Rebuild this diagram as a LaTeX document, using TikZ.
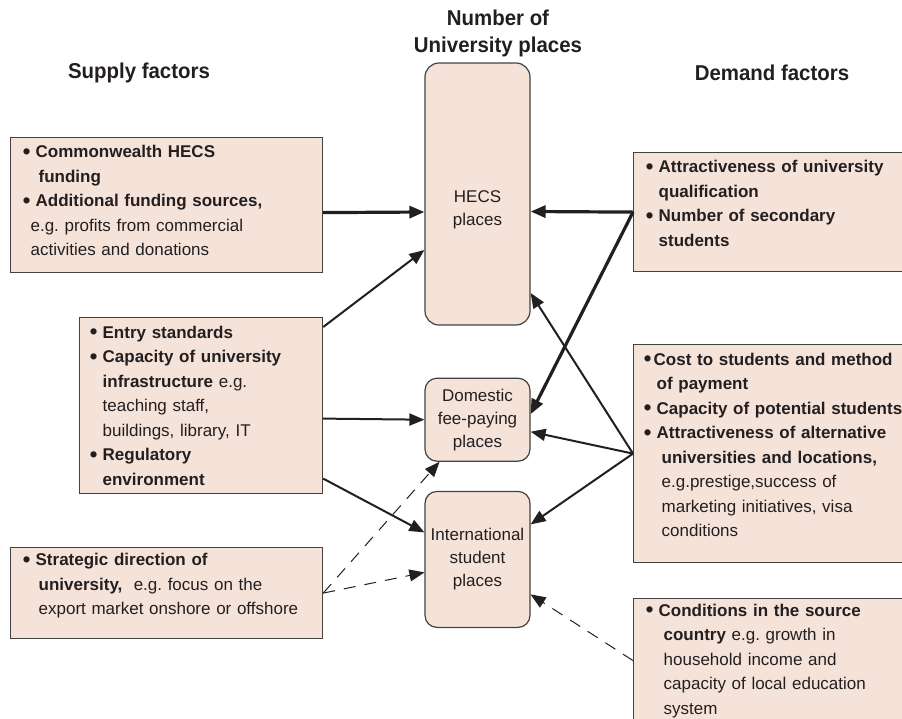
\documentclass[tikz,border=0pt]{standalone}
\usepackage{fontspec}
\setmainfont{Liberation Sans}
\newfontfamily\headfont[FakeStretch=0.95]{Liberation Sans}
\usepackage{xcolor}
\usepackage{tikz}
\usetikzlibrary{positioning, arrows.meta}

\definecolor{boxfill}{HTML}{F5E3DA}
\definecolor{ink}{HTML}{231F20}

% bullet and hanging indent
\newcommand{\bulmark}{\raisebox{-1.6pt}{\fontsize{23}{23}\selectfont\textbullet}}
\newcommand{\bul}{\bulmark\hspace{5pt}}
\newcommand{\ind}{\hphantom{\bulmark\hspace{5pt}}}
% invisible struts to move text off the centre
\newcommand{\lift}[1]{\rule[-#1]{0pt}{1pt}}
\newcommand{\drop}[1]{\rule{0pt}{#1}}

\frenchspacing

\begin{document}
\begin{tikzpicture}[
        x=1pt, y=-1pt,
        every node/.style={text=ink},
        factor/.style={rectangle, anchor=north west, draw=ink!85, fill=boxfill, line width=1.2pt, align=left, inner xsep=12pt, inner ysep=0pt, font=\fontsize{17}{24.5}\selectfont},
        place/.style={rectangle, rounded corners=14pt, draw=ink!85, fill=boxfill, line width=1.2pt, text width=101pt, inner xsep=2pt, align=center, font=\fontsize{17}{23}\selectfont},
        heading/.style={font=\headfont\bfseries\fontsize{21.5}{27}\selectfont, align=center},
        arrow/.style={draw=ink, line width=2pt, -{Triangle[length=15pt,width=12pt]}},
        bigarrow/.style={arrow, line width=3.2pt},
        dasharrow/.style={arrow, line width=1pt, dash pattern=on 12pt off 9pt}
    ]
        \useasboundingbox (0,0) rectangle (902,718);
        \clip (0,0) rectangle (902,718);

        % ===== 标题 =====
        \node (supTitle) [heading] at (139,73) {Supply factors};
        \node (placesTitle) [heading] at (498,33) {Number of\\University places};
        \node (demTitle) [heading] at (772,73) {Demand factors};

        % ===== 大学名额 =====
        \node (hecs) [place, minimum height=262pt] at (477.5,194) {\drop{44pt}HECS\\places};
        \node (dom) [place, rounded corners=12pt, minimum height=83pt, below=52pt of hecs] {Domestic\\fee-paying\\places};
        \node (intl) [place, rounded corners=12pt, minimum height=136pt, below=29pt of dom] {International\\student\\places};

        % ===== 供给因素 =====
        \node (supA) [factor, text width=288pt, minimum height=135pt] at (10,137) {%
            \bul\textbf{Commonwealth HECS}\\
            \ind\hspace*{3pt}\textbf{funding}\\
            \bul\textbf{Additional funding sources,}\\
            \hspace*{8pt}e.g. profits from commercial\\
            \hspace*{8pt}activities and donations\lift{9pt}};
        \node (supB) [factor, inner xsep=10pt, text width=223pt, minimum height=176pt] at (79,317) {%
            \bul\textbf{Entry standards}\\
            \bul\textbf{Capacity of university}\\
            \ind\textbf{infrastructure} e.g.\\
            \ind teaching staff,\\
            \ind buildings, library, IT\\
            \bul\textbf{Regulatory}\\
            \ind\textbf{environment}};
        \node (supC) [factor, text width=288pt, minimum height=91pt] at (10,547) {%
            \bul\textbf{Strategic direction of}\\
            \ind\hspace*{3pt}\textbf{university,}\ \ e.g. focus on the\\
            \ind\hspace*{3pt}export market onshore or offshore\lift{18pt}};

        % ===== 需求因素 =====
        \node (demA) [factor, text width=255pt, minimum height=119pt] at (633,152) {%
            \bul\textbf{Attractiveness of university}\\
            \ind\textbf{qualification}\\
            \bul\textbf{Number of secondary}\\
            \ind\textbf{students}\lift{18pt}};
        \node (demB) [factor, inner xsep=10pt, text width=259pt, minimum height=218pt] at (633,344) {%
            \bulmark\hspace{2pt}\textbf{Cost to students and method}\\
            \ind\textbf{of payment}\\
            \bul\textbf{Capacity of potential students}\\
            \bul\textbf{Attractiveness of alternative}\\
            \ind\hspace*{5pt}\textbf{universities and locations,}\\
            \ind\hspace*{5pt}e.g.prestige,success of\\
            \ind\hspace*{5pt}marketing initiatives, visa\\
            \ind\hspace*{5pt}conditions\lift{18pt}};
        \node (demC) [factor, text width=255pt, minimum height=124pt] at (633,598) {%
            \bul\textbf{Conditions in the source}\\
            \ind\hspace*{5pt}\textbf{country} e.g. growth in\\
            \ind\hspace*{5pt}household income and\\
            \ind\hspace*{5pt}capacity of local education\\
            \ind\hspace*{5pt}system};

        % ===== 箭头连接 =====
        % 供给侧
        \draw [bigarrow] ([yshift=-7.5pt]supA.east) -- ([yshift=-18pt]hecs.west);
        \draw [arrow] ([yshift=-10pt]supB.north east) -- ([yshift=-56pt]hecs.west);
        \draw [arrow] ([yshift=-13pt]supB.east) -- (dom.west);
        \draw [arrow] ([yshift=-73pt]supB.east) -- ([yshift=27pt]intl.west);
        \draw [dasharrow] (supC.east) -- ([xshift=-38pt]dom.south);
        \draw [dasharrow] (supC.east) -- ([yshift=-13pt]intl.west);

        % 需求侧
        \draw [bigarrow] (demA.west) -- ([yshift=-17.5pt]hecs.east);
        \draw [bigarrow] (demA.west) -- ([yshift=5.5pt]dom.east);
        \draw [arrow] (demB.west) -- ([yshift=-99pt]hecs.east);
        \draw [arrow] (demB.west) -- ([yshift=-12pt]dom.east);
        \draw [arrow] (demB.west) -- ([yshift=35pt]intl.east);
        \draw [dasharrow] (demC.west) -- ([yshift=-35pt]intl.east);

    \end{tikzpicture}
\end{document}
